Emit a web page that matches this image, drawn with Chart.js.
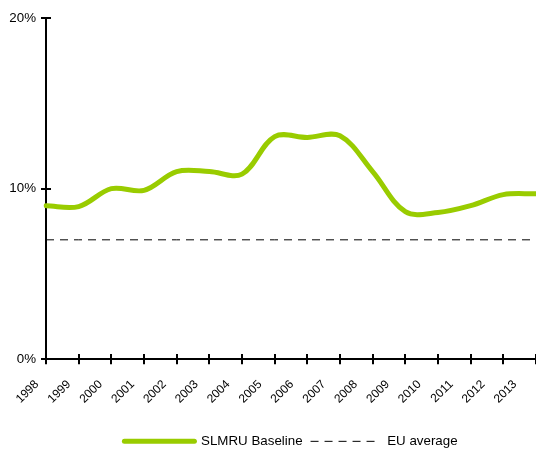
<!DOCTYPE html>
<html><head><meta charset="utf-8">
<script src="https://cdn.jsdelivr.net/npm/chart.js@4.4.1/dist/chart.umd.min.js"></script>
<style>
html,body{margin:0;padding:0;background:#fff;overflow:hidden}
#wrap{width:536px;height:450px;overflow:hidden;position:relative}
canvas{display:block}
</style></head><body>
<div id="wrap"><canvas id="c" width="536" height="458"></canvas></div>
<script>
const years = ['1998','1999','2000','2001','2002','2003','2004','2005','2006','2007','2008','2009','2010','2011','2012','2013'];
const slmruBaseline = [9.0, 8.95, 10.0, 9.9, 11.0, 11.0, 10.85, 13.05, 13.0, 13.1, 11.0, 8.65, 8.6, 9.0, 9.65, 9.7];
const euAverage = [7, 7, 7, 7, 7, 7, 7, 7, 7, 7, 7, 7, 7, 7, 7, 7];
const yTickValues = [0, 10, 20];

const FONT = 'Liberation Sans, Arial, sans-serif';
const black = '#000';

new Chart(document.getElementById('c'), {
  type: 'line',
  data: {
    labels: years,
    datasets: [
      { label: 'SLMRU Baseline', data: slmruBaseline, borderColor: '#99CC00', backgroundColor: '#99CC00',
        borderWidth: 5, pointRadius: 0, tension: 0.35, borderCapStyle: 'round', borderJoinStyle: 'round',
        xAxisID: 'x', yAxisID: 'y' },
      { label: 'EU average', data: euAverage, borderColor: black, backgroundColor: black,
        borderWidth: 1, borderDash: [8, 6], pointRadius: 0, tension: 0,
        xAxisID: 'x', yAxisID: 'y' }
    ]
  },
  options: {
    responsive: false,
    animation: false,
    layout: { padding: { top: 18, left: 0, right: 0, bottom: 0 } },
    plugins: {
      tooltip: { enabled: false },
      legend: {
        position: 'bottom', fullSize: false,
        labels: { usePointStyle: true, pointStyle: 'line', pointStyleWidth: 70, padding: 8,
          color: black, font: { family: FONT, size: 13.33 },
          generateLabels: chart => Chart.defaults.plugins.legend.labels.generateLabels(chart).map(item => {
            const ds = chart.data.datasets[item.datasetIndex];
            item.lineDash = ds.borderDash || [];
            item.lineWidth = ds.borderWidth;
            item.strokeStyle = ds.borderColor;
            item.lineCap = ds.borderCapStyle || 'butt';
            item.pointStyle = 'line';
            return item;
          })
        }
      }
    },
    scales: {
      x: {
        type: 'category', axis: 'x', position: 'bottom', weight: 0, offset: false,
        grid: { drawOnChartArea: false, tickLength: 5, color: black, lineWidth: 2 },
        border: { color: black, width: 2 },
        ticks: { display: false },
        afterFit: s => { s.height = 5; }
      },
      xl: {
        type: 'linear', axis: 'x', position: 'bottom', weight: 1,
        min: 1998.284, max: 2013.659,
        grid: { display: false }, border: { display: false },
        ticks: { autoSkip: false, minRotation: 45, maxRotation: 45, padding: 5, color: black,
          font: { family: FONT, size: 12 }, callback: v => String(v) },
        afterBuildTicks: s => { s.ticks = years.map(y => ({ value: Number(y) })); },
        afterFit: s => { s.height = 62.4; s.paddingLeft = 0; s.paddingRight = 0; }
      },
      xt: {
        type: 'category', axis: 'x', position: { y: 0 }, offset: false,
        grid: { drawOnChartArea: false, tickLength: -5, color: black, lineWidth: 2 },
        border: { display: false }, ticks: { display: false }
      },
      y: {
        type: 'linear', axis: 'y', position: 'left', min: 0, max: 20,
        grid: { drawOnChartArea: false, tickLength: 5, color: black, lineWidth: 2 },
        border: { color: black, width: 2 },
        ticks: { padding: 5, color: black, font: { family: FONT, size: 13.33 }, callback: v => v + '%' },
        afterBuildTicks: s => { s.ticks = yTickValues.map(v => ({ value: v })); },
        afterFit: s => { s.width = 46; }
      },
      yt: {
        type: 'linear', axis: 'y', position: { x: 0 }, min: 0, max: 20,
        grid: { drawOnChartArea: false, tickLength: -5, color: black, lineWidth: 2 },
        border: { display: false }, ticks: { display: false },
        afterBuildTicks: s => { s.ticks = yTickValues.map(v => ({ value: v })); }
      }
    }
  }
});
</script>
</body></html>
